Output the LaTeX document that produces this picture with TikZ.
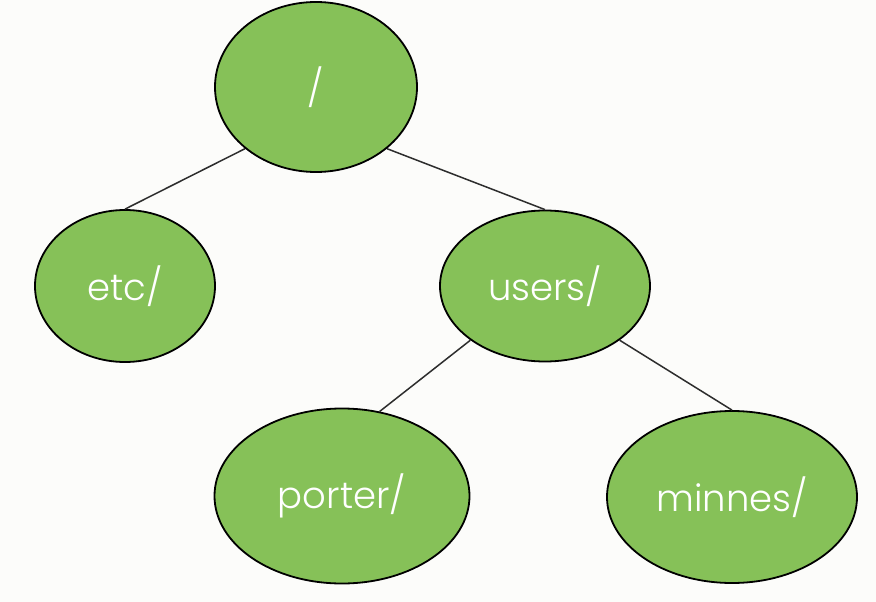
\documentclass[tikz,border=0pt]{standalone}
\usepackage{fontspec}
\setmainfont{Poppins}[UprightFont=* Light]
\usetikzlibrary{shapes.geometric}
\definecolor{leaf}{RGB}{134,193,88}
\definecolor{bgc}{RGB}{252,252,250}
\definecolor{edgec}{RGB}{45,45,45}
\tikzset{
  dirnode/.style={ellipse, draw=black, line width=1.8pt, fill=leaf, inner sep=0pt,
    text=white, font=\fontsize{37}{42}\selectfont},
  link/.style={draw=edgec, line width=1.5pt}
}
\begin{document}
\begin{tikzpicture}[x=1pt,y=-1pt]
\fill[bgc] (0,0) rectangle (876,602);
\useasboundingbox (0,0) rectangle (876,602);
\node[dirnode, minimum width=202pt, minimum height=170pt] (root) at (316,87) {/};
\node[dirnode, minimum width=180pt, minimum height=152pt] (etc) at (125,286) {etc/};
\node[dirnode, minimum width=210pt, minimum height=151pt] (users) at (545,286) {users/};
\node[dirnode, minimum width=255pt, minimum height=175pt] (porter) at (342,496) {porter/};
\node[dirnode, minimum width=250pt, minimum height=172pt] (minnes) at (732,497) {minnes/};
\draw[link] (root.221) -- (etc.north);
\draw[link] (root.319) -- (users.north);
\draw[link] (users.216) -- (porter.66);
\draw[link] (users.324) -- (minnes.north);
\end{tikzpicture}
\end{document}
